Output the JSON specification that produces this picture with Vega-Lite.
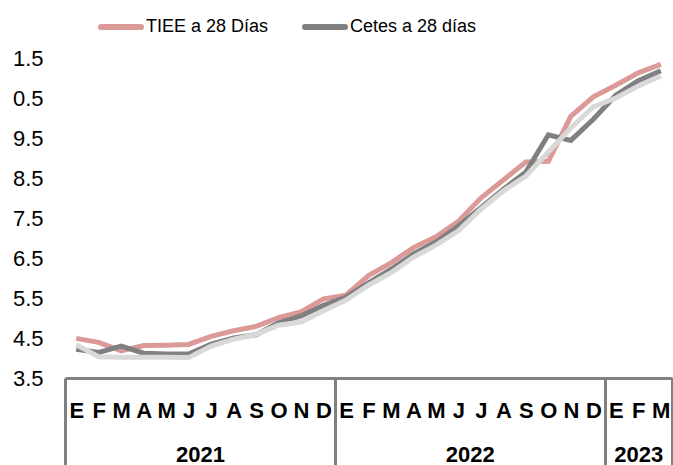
{
  "$schema": "https://vega.github.io/schema/vega-lite/v6.json",
  "autosize": {"type": "none"},
  "width": 607,
  "height": 320,
  "padding": {"left": 65, "top": 58, "right": 1, "bottom": 87},
  "background": "white",
  "config": {"view": {"stroke": null}},
  "datasets": {
    "tasas": [
      {"i": 0, "s": "TIEE a 28 Días", "v": 4.49}, {"i": 1, "s": "TIEE a 28 Días", "v": 4.39}, {"i": 2, "s": "TIEE a 28 Días", "v": 4.18}, {"i": 3, "s": "TIEE a 28 Días", "v": 4.31}, {"i": 4, "s": "TIEE a 28 Días", "v": 4.32}, {"i": 5, "s": "TIEE a 28 Días", "v": 4.34}, {"i": 6, "s": "TIEE a 28 Días", "v": 4.54}, {"i": 7, "s": "TIEE a 28 Días", "v": 4.68}, {"i": 8, "s": "TIEE a 28 Días", "v": 4.79}, {"i": 9, "s": "TIEE a 28 Días", "v": 5.01}, {"i": 10, "s": "TIEE a 28 Días", "v": 5.15}, {"i": 11, "s": "TIEE a 28 Días", "v": 5.48}, {"i": 12, "s": "TIEE a 28 Días", "v": 5.57}, {"i": 13, "s": "TIEE a 28 Días", "v": 6.06}, {"i": 14, "s": "TIEE a 28 Días", "v": 6.38}, {"i": 15, "s": "TIEE a 28 Días", "v": 6.76}, {"i": 16, "s": "TIEE a 28 Días", "v": 7.03}, {"i": 17, "s": "TIEE a 28 Días", "v": 7.42}, {"i": 18, "s": "TIEE a 28 Días", "v": 8.0}, {"i": 19, "s": "TIEE a 28 Días", "v": 8.45}, {"i": 20, "s": "TIEE a 28 Días", "v": 8.9}, {"i": 21, "s": "TIEE a 28 Días", "v": 8.92}, {"i": 22, "s": "TIEE a 28 Días", "v": 10.04}, {"i": 23, "s": "TIEE a 28 Días", "v": 10.53}, {"i": 24, "s": "TIEE a 28 Días", "v": 10.82}, {"i": 25, "s": "TIEE a 28 Días", "v": 11.13}, {"i": 26, "s": "TIEE a 28 Días", "v": 11.34},
      {"i": 0, "s": "Cetes a 28 días", "v": 4.22}, {"i": 1, "s": "Cetes a 28 días", "v": 4.14}, {"i": 2, "s": "Cetes a 28 días", "v": 4.3}, {"i": 3, "s": "Cetes a 28 días", "v": 4.12}, {"i": 4, "s": "Cetes a 28 días", "v": 4.1}, {"i": 5, "s": "Cetes a 28 días", "v": 4.1}, {"i": 6, "s": "Cetes a 28 días", "v": 4.35}, {"i": 7, "s": "Cetes a 28 días", "v": 4.5}, {"i": 8, "s": "Cetes a 28 días", "v": 4.58}, {"i": 9, "s": "Cetes a 28 días", "v": 4.88}, {"i": 10, "s": "Cetes a 28 días", "v": 5.05}, {"i": 11, "s": "Cetes a 28 días", "v": 5.32}, {"i": 12, "s": "Cetes a 28 días", "v": 5.52}, {"i": 13, "s": "Cetes a 28 días", "v": 5.88}, {"i": 14, "s": "Cetes a 28 días", "v": 6.22}, {"i": 15, "s": "Cetes a 28 días", "v": 6.6}, {"i": 16, "s": "Cetes a 28 días", "v": 6.9}, {"i": 17, "s": "Cetes a 28 días", "v": 7.3}, {"i": 18, "s": "Cetes a 28 días", "v": 7.76}, {"i": 19, "s": "Cetes a 28 días", "v": 8.22}, {"i": 20, "s": "Cetes a 28 días", "v": 8.65}, {"i": 21, "s": "Cetes a 28 días", "v": 9.58}, {"i": 22, "s": "Cetes a 28 días", "v": 9.44}, {"i": 23, "s": "Cetes a 28 días", "v": 9.97}, {"i": 24, "s": "Cetes a 28 días", "v": 10.57}, {"i": 25, "s": "Cetes a 28 días", "v": 10.93}, {"i": 26, "s": "Cetes a 28 días", "v": 11.18},
      {"i": 0, "s": "Otra", "v": 4.33}, {"i": 1, "s": "Otra", "v": 4.03}, {"i": 2, "s": "Otra", "v": 4.02}, {"i": 3, "s": "Otra", "v": 4.02}, {"i": 4, "s": "Otra", "v": 4.02}, {"i": 5, "s": "Otra", "v": 4.01}, {"i": 6, "s": "Otra", "v": 4.3}, {"i": 7, "s": "Otra", "v": 4.47}, {"i": 8, "s": "Otra", "v": 4.59}, {"i": 9, "s": "Otra", "v": 4.82}, {"i": 10, "s": "Otra", "v": 4.9}, {"i": 11, "s": "Otra", "v": 5.18}, {"i": 12, "s": "Otra", "v": 5.45}, {"i": 13, "s": "Otra", "v": 5.82}, {"i": 14, "s": "Otra", "v": 6.13}, {"i": 15, "s": "Otra", "v": 6.52}, {"i": 16, "s": "Otra", "v": 6.82}, {"i": 17, "s": "Otra", "v": 7.18}, {"i": 18, "s": "Otra", "v": 7.72}, {"i": 19, "s": "Otra", "v": 8.18}, {"i": 20, "s": "Otra", "v": 8.55}, {"i": 21, "s": "Otra", "v": 9.15}, {"i": 22, "s": "Otra", "v": 9.75}, {"i": 23, "s": "Otra", "v": 10.28}, {"i": 24, "s": "Otra", "v": 10.5}, {"i": 25, "s": "Otra", "v": 10.8}, {"i": 26, "s": "Otra", "v": 11.05}
    ]
  },
  "data": {"name": "tasas"},
  "mark": {"type": "line", "strokeWidth": 5, "clip": false},
  "encoding": {
    "x": {
      "field": "i",
      "type": "quantitative",
      "scale": {"domain": [-0.5, 26.5], "nice": false, "zero": false},
      "axis": {
        "title": null,
        "grid": false,
        "values": [-0.5, 0, 1, 2, 3, 4, 5, 5.5, 6, 7, 8, 9, 10, 11, 11.5, 12, 13, 14, 15, 16, 17, 17.5, 18, 19, 20, 21, 22, 23, 23.5, 24, 25, 26, 26.5],
        "labelExpr": "datum.value == 5.5 ? ['', '2021'] : datum.value == 17.5 ? ['', '2022'] : datum.value == 25 ? ['F', '2023'] : (datum.value % 1 != 0 ? '' : ['E','F','M','A','M','J','J','A','S','O','N','D'][datum.value % 12])",
        "domainColor": "#808080",
        "domainWidth": 3,
        "tickSize": 87,
        "tickWidth": 3,
        "tickColor": {"condition": {"test": "indexof([-0.5, 11.5, 23.5, 26.5], datum.value) >= 0", "value": "#808080"}, "value": "rgba(0,0,0,0)"},
        "labelPadding": -65,
        "labelFont": "Liberation Sans",
        "labelFontSize": 22,
        "labelFontWeight": "bold",
        "labelColor": "#000000",
        "labelLineHeight": 44,
        "labelOverlap": false,
        "labelBound": false,
        "labelFlush": false
      }
    },
    "y": {
      "field": "v",
      "type": "quantitative",
      "scale": {"domain": [3.5, 11.5], "nice": false, "zero": false},
      "axis": {
        "title": null,
        "grid": false,
        "domain": false,
        "ticks": false,
        "values": [3.5, 4.5, 5.5, 6.5, 7.5, 8.5, 9.5, 10.5, 11.5],
        "format": ".1f",
        "labelExpr": "slice(datum.label, -3)",
        "labelPadding": 22,
        "labelFont": "Liberation Sans",
        "labelFontSize": 22,
        "labelColor": "#000000",
        "labelBound": false
      }
    },
    "color": {
      "field": "s",
      "type": "nominal",
      "sort": ["TIEE a 28 Días", "Cetes a 28 días", "Otra"],
      "scale": {"domain": ["TIEE a 28 Días", "Cetes a 28 días", "Otra"], "range": ["#DB9A97", "#808080", "#D9D9D9"]},
      "legend": {
        "title": null,
        "values": ["TIEE a 28 Días", "Cetes a 28 días"],
        "orient": "none",
        "legendX": 33,
        "legendY": -54,
        "direction": "horizontal",
        "symbolType": "stroke",
        "symbolSize": 1600,
        "symbolStrokeWidth": 6,
        "labelFont": "Liberation Sans",
        "labelFontSize": 18,
        "labelColor": "#000000",
        "labelOffset": 2,
        "columnPadding": 24,
        "padding": 0,
        "labelLimit": 300,
        "encode": {"symbols": {"update": {"strokeCap": {"value": "round"}}}}
      }
    }
  }
}
